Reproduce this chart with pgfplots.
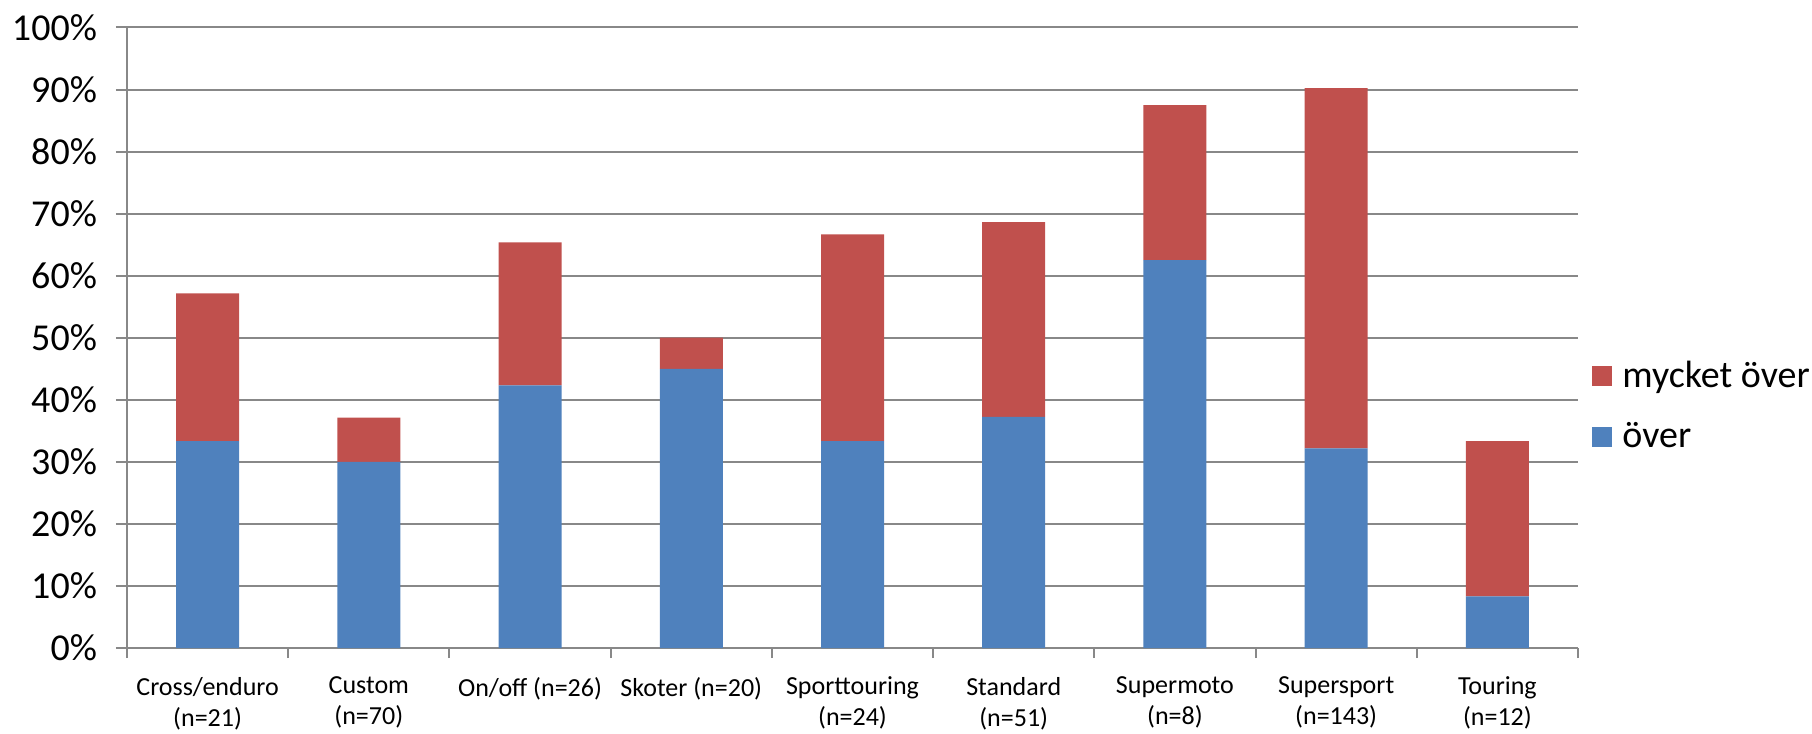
\documentclass[border=0pt]{standalone}
\usepackage{fontspec}
\setmainfont{Carlito}
\usepackage{pgfplots}
\pgfplotsset{compat=1.18}
\definecolor{blueb}{HTML}{4F81BD}
\definecolor{redb}{HTML}{C0504D}
\definecolor{gridc}{HTML}{888888}
\begin{document}
\begin{tikzpicture}
\begin{axis}[
  scale only axis,
  width=725.5pt, height=310.25pt,
  ybar stacked,
  bar width=31.5pt,
  xmin=-0.5, xmax=8.5,
  ymin=0, ymax=100,
  axis x line*=bottom, axis y line*=left,
  axis line style={gridc, line width=1pt, -},
  xtick={0,...,8},
  xticklabels={{Cross/enduro\\(n=21)},{Custom\\(n=70)},{On/off (n=26)},{Skoter (n=20)},{Sporttouring\\(n=24)},{Standard\\(n=51)},{Supermoto\\(n=8)},{Supersport\\(n=143)},{Touring\\(n=12)}},
  major x tick style={draw=none},
  minor xtick={-0.5,0.5,...,8.5},
  minor x tick style={gridc, line width=1pt},
  minor tick length=5pt,
  ytick={0,10,...,100},
  yticklabel={\pgfmathprintnumber{\tick}\%},
  major tick length=5.5pt,
  tick align=outside,
  ytick style={gridc, line width=1pt},
  ymajorgrids,
  grid style={gridc, line width=1pt},
  /pgf/number format/assume math mode=true,
  xticklabel style={font=\fontsize{13}{15.5}\selectfont, align=center, anchor=north, yshift=-5.5pt},
  yticklabel style={font=\fontsize{19}{22}\selectfont, xshift=-6pt},
  legend style={draw=none, at={(1,0.39)}, anchor=west, xshift=4pt,
    font=\fontsize{19}{22}\selectfont, row sep=12pt,
    /tikz/every odd column/.append style={column sep=3pt}},
  legend cell align=left,
  reverse legend,
  legend image code/.code={\fill[#1] (0pt,-5pt) rectangle (10pt,5pt);},
]
\addplot[fill=blueb, draw=none] coordinates {(0,33.33) (1,30.00) (2,42.31) (3,45.00) (4,33.33) (5,37.25) (6,62.50) (7,32.17) (8,8.33)};
\addplot[fill=redb, draw=none] coordinates {(0,23.81) (1,7.14) (2,23.08) (3,5.00) (4,33.33) (5,31.37) (6,25.00) (7,58.04) (8,25.00)};
\legend{över, mycket över}
\end{axis}
\pgfresetboundingbox
\path (current axis.south west) ++(-63.5pt,-42.5pt) coordinate (bl);
\path (current axis.north east) ++(117pt,13.75pt) coordinate (tr);
\path[use as bounding box] (bl) rectangle (tr);
\end{tikzpicture}
\end{document}
